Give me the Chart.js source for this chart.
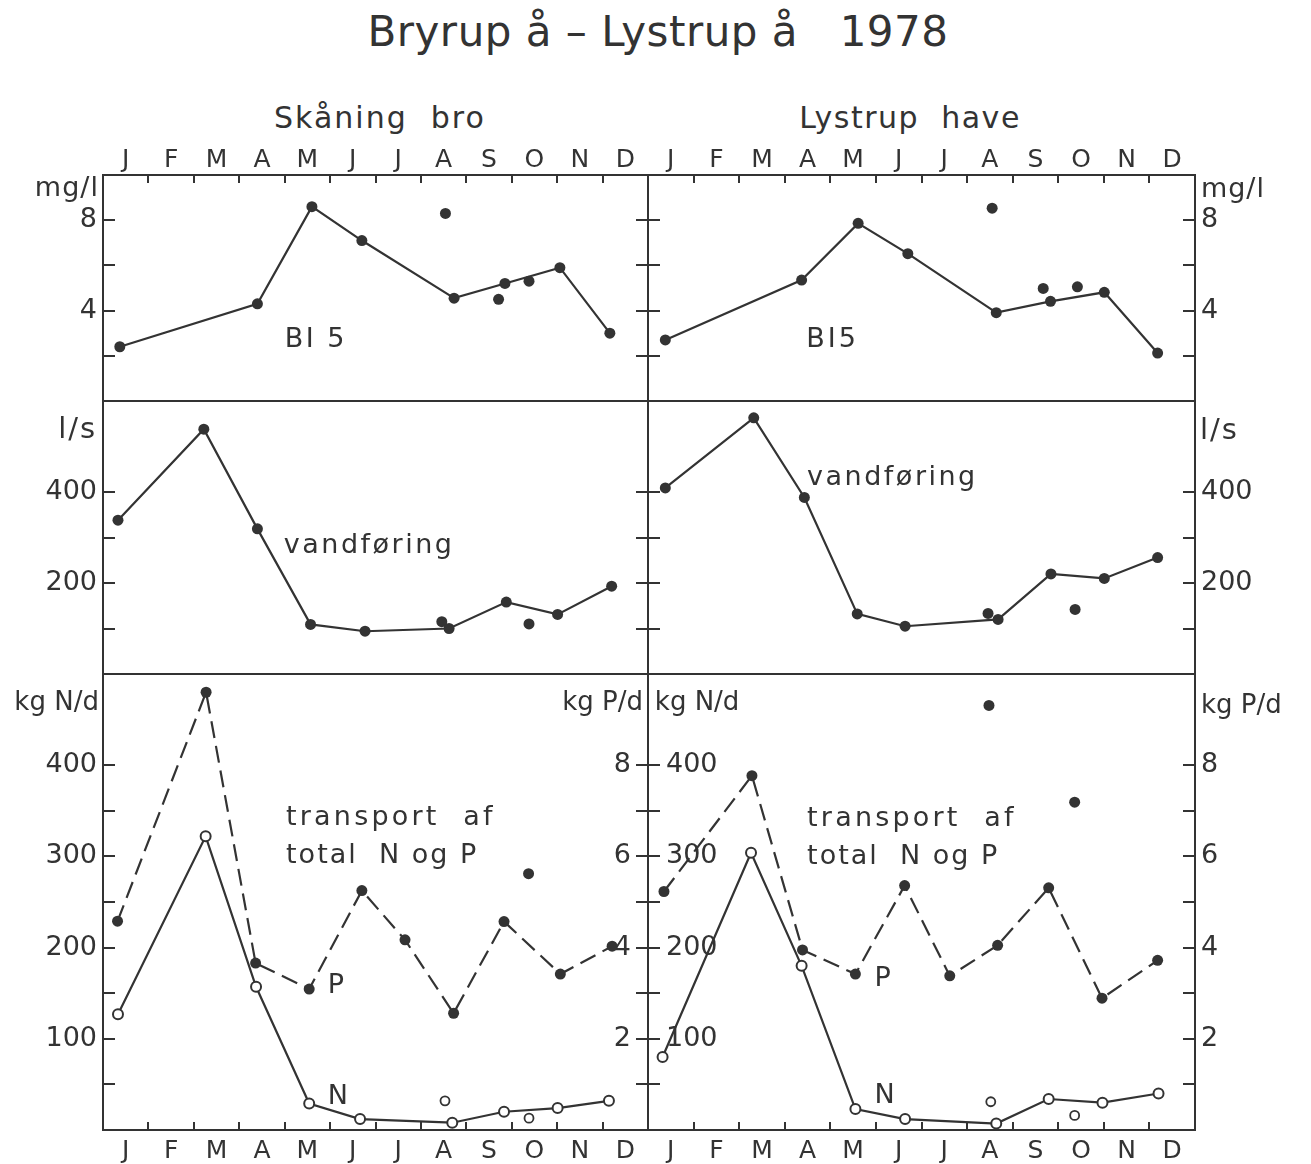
<!DOCTYPE html>
<html>
<head>
<meta charset="utf-8">
<script src="https://cdn.jsdelivr.net/npm/chart.js@4.4.1/dist/chart.umd.min.js"></script>
<style>
  body { margin: 0; background: #fff; }
  #page { position: relative; width: 1311px; height: 1164px; overflow: hidden; background: #fff;
          font-family: "DejaVu Sans", "Liberation Sans", sans-serif; color: #333; }
  #page canvas { position: absolute; }
  .t { position: absolute; white-space: pre; line-height: 1; text-align: center; }
</style>
</head>
<body>
<div id="page">
  <div class="t" style="left:0;width:1316px;top:11px;font-size:42px;letter-spacing:0.5px">Bryrup å – Lystrup å   1978</div>
  <div class="t" style="left:180px;width:400px;top:103px;font-size:30px;letter-spacing:2px">Skåning  bro</div>
  <div class="t" style="left:710px;width:400px;top:103px;font-size:30px;letter-spacing:1.5px">Lystrup  have</div>
</div>
<script>
// months, x = month position (0 = 1 Jan, 12 = 31 Dec)
const months = ['J', 'F', 'M', 'A', 'M', 'J', 'J', 'A', 'S', 'O', 'N', 'D'];

// Skåning bro
const bi5X_sk = [0.37, 3.40, 4.60, 5.70, 7.73, 8.85, 10.06, 11.16];
const bi5_sk = [2.4, 4.3, 8.6, 7.1, 4.55, 5.2, 5.9, 3.0];
const bi5ExtraX_sk = [7.54, 8.71, 9.38];
const bi5Extra_sk = [8.3, 4.5, 5.3];
const qX_sk = [0.33, 2.22, 3.40, 4.57, 5.77, 7.62, 8.88, 10.01, 11.20];
const q_sk = [338, 538, 319, 109, 94, 100, 158, 131, 193];
const qExtraX_sk = [7.46, 9.38];
const qExtra_sk = [115, 110];
const pX_sk = [0.32, 2.27, 3.36, 4.54, 5.70, 6.65, 7.72, 8.83, 10.07, 11.21];
const p_sk = [4.58, 9.6, 3.66, 3.09, 5.25, 4.17, 2.56, 4.57, 3.42, 4.03];
const pExtraX_sk = [9.37];
const pExtra_sk = [5.62];
const nX_sk = [0.33, 2.26, 3.37, 4.54, 5.66, 7.69, 8.83, 10.01, 11.14];
const n_sk = [127, 322, 157, 29, 12, 8, 20, 24, 32];
const nExtraX_sk = [7.53, 9.38];
const nExtra_sk = [32, 13];

// Lystrup have
const bi5X_ly = [0.38, 3.37, 4.61, 5.70, 7.64, 8.83, 10.01, 11.18];
const bi5_ly = [2.7, 5.35, 7.86, 6.52, 3.91, 4.41, 4.81, 2.12];
const bi5ExtraX_ly = [7.55, 8.67, 9.42];
const bi5Extra_ly = [8.53, 4.98, 5.05];
const qX_ly = [0.38, 2.32, 3.43, 4.59, 5.64, 7.68, 8.84, 10.01, 11.18];
const q_ly = [409, 563, 388, 132, 105, 120, 220, 210, 256];
const qExtraX_ly = [7.46, 9.37];
const qExtra_ly = [133, 142];
const pX_ly = [0.35, 2.28, 3.39, 4.55, 5.63, 6.62, 7.67, 8.79, 9.96, 11.18];
const p_ly = [5.23, 7.77, 3.95, 3.42, 5.36, 3.38, 4.05, 5.31, 2.89, 3.72];
const pExtraX_ly = [7.48, 9.36];
const pExtra_ly = [9.31, 7.19];
const nX_ly = [0.32, 2.26, 3.37, 4.55, 5.64, 7.64, 8.79, 9.97, 11.2];
const n_ly = [80, 304, 180, 23, 12, 7, 34, 30, 40];
const nExtraX_ly = [7.52, 9.36];
const nExtra_ly = [31, 16];

// axis ticks and labelled values
const bi5Ticks = [2, 4, 6, 8];
const bi5Labels = [4, 8];
const qTicks = [100, 200, 300, 400];
const qLabels = [200, 400];
const nTicks = [50, 100, 150, 200, 250, 300, 350, 400];
const nLabels = [100, 200, 300, 400];
const pTicks = [1, 2, 3, 4, 5, 6, 7, 8];
const pLabels = [2, 4, 6, 8];

const INK = '#333';
const FAM = '"DejaVu Sans", "Liberation Sans", sans-serif';
const page = document.getElementById('page');

// canvas boxes, pad = room for the axes round the plot area
const COL_L = { left: 0, width: 660, padL: 103, padR: 12 };
const COL_R = { left: 636, width: 675, padL: 12, padR: 116 };
const ROW_1 = { top: 90, height: 316, padT: 85, padB: 5 };
const ROW_2 = { top: 396, height: 284, padT: 5, padB: 6 };
const ROW_3 = { top: 669, height: 495, padT: 5, padB: 34 };

const xy = (xs, ys) => xs.map((x, i) => ({ x: x, y: ys[i] }));

function xAxis(side, withMonths, size) {
  const vals = [];
  for (let k = 0; k <= 24; k++) vals.push(k / 2);
  return {
    type: 'linear', position: side, min: 0, max: 12,
    afterBuildTicks: s => { s.ticks = (withMonths ? vals : [0]).map(v => ({ value: v })); },
    afterFit: s => { s.height = size; s.paddingLeft = 0; s.paddingRight = 0; },
    border: { display: true, color: INK, width: 2 },
    grid: {
      drawOnChartArea: false, drawTicks: withMonths, tickLength: -8, lineWidth: 2,
      color: c => (c.tick && Number.isInteger(c.tick.value) && c.tick.value > 0 && c.tick.value < 12) ? INK : 'rgba(0,0,0,0)'
    },
    ticks: {
      display: withMonths, autoSkip: false, maxRotation: 0, minRotation: 0,
      padding: side === 'top' ? 8 : 14, color: INK, font: { family: FAM, size: 25 },
      callback: v => Number.isInteger(v) ? '' : months[Math.floor(v)]
    }
  };
}

function yAxis(side, max, tickVals, labelVals, mode, size) {
  // mode: 'out' labels outside, 'in' labels inside the panel, 'none' ticks only
  let pad = 18;
  if (mode === 'in') pad = side === 'left' ? 18 : -17;
  return {
    type: 'linear', position: side, min: 0, max: max,
    afterBuildTicks: s => { s.ticks = tickVals.map(v => ({ value: v })); },
    afterFit: s => { s.width = size; s.paddingTop = 0; s.paddingBottom = 0; },
    border: { display: true, color: INK, width: 2 },
    grid: { drawOnChartArea: false, drawTicks: true, tickLength: -12, lineWidth: 2, color: INK },
    ticks: {
      display: mode !== 'none', mirror: mode === 'in', autoSkip: false,
      padding: pad, color: INK, font: { family: FAM, size: 27 },
      callback: v => labelVals.includes(v) ? String(v) : ''
    }
  };
}

function joined(xs, ys, yID, open, dash) {
  return {
    data: xy(xs, ys), yAxisID: yID, xAxisID: 'xt', showLine: true, tension: 0,
    borderColor: INK, borderWidth: 2.2, borderDash: dash ? [17, 8] : [],
    pointRadius: open ? 5 : 5.5, pointBorderWidth: open ? 2 : 0,
    pointBackgroundColor: open ? '#fff' : INK, pointBorderColor: INK
  };
}

function loose(xs, ys, yID, open) {
  return {
    data: xy(xs, ys), yAxisID: yID, xAxisID: 'xt', showLine: false,
    pointRadius: open ? 4.5 : 5.5, pointBorderWidth: open ? 1.8 : 0,
    pointBackgroundColor: open ? '#fff' : INK, pointBorderColor: INK
  };
}

// text placed through the chart's own scales
function notes(items) {
  return {
    id: 'notes',
    afterDatasetsDraw(chart) {
      const ctx = chart.ctx;
      items.forEach(n => {
        ctx.save();
        ctx.font = (n.size || 27) + 'px ' + FAM;
        ctx.fillStyle = INK;
        ctx.textAlign = n.align || 'left';
        ctx.textBaseline = 'alphabetic';
        ctx.letterSpacing = (n.ls || 0) + 'px';
        ctx.fillText(n.text, chart.scales.xt.getPixelForValue(n.x), chart.scales[n.axis || 'yl'].getPixelForValue(n.y));
        ctx.restore();
      });
    }
  };
}

function panel(col, row, scales, datasets, items) {
  const cv = document.createElement('canvas');
  cv.width = col.width;
  cv.height = row.height;
  cv.style.left = col.left + 'px';
  cv.style.top = row.top + 'px';
  cv.style.width = col.width + 'px';
  cv.style.height = row.height + 'px';
  page.appendChild(cv);
  new Chart(cv, {
    type: 'line',
    data: { datasets: datasets },
    options: {
      responsive: false, animation: false, events: [],
      layout: { padding: 0, autoPadding: false },
      plugins: { legend: { display: false }, tooltip: { enabled: false } },
      scales: scales
    },
    plugins: [notes(items)]
  });
}

// row 1: BI5
panel(COL_L, ROW_1, {
  xt: xAxis('top', true, ROW_1.padT), xb: xAxis('bottom', false, ROW_1.padB),
  yl: yAxis('left', 10, bi5Ticks, bi5Labels, 'out', COL_L.padL),
  yr: yAxis('right', 10, bi5Ticks, [], 'none', COL_L.padR)
}, [joined(bi5X_sk, bi5_sk, 'yl', false, false), loose(bi5ExtraX_sk, bi5Extra_sk, 'yl', false)], [
  { text: 'mg/l', x: -0.09, y: 9.07, align: 'right', size: 27, ls: 1 },
  { text: 'BI 5', x: 4.0, y: 2.38, ls: 2.5 }
]);
panel(COL_R, ROW_1, {
  xt: xAxis('top', true, ROW_1.padT), xb: xAxis('bottom', false, ROW_1.padB),
  yl: yAxis('left', 10, bi5Ticks, [], 'none', COL_R.padL),
  yr: yAxis('right', 10, bi5Ticks, bi5Labels, 'out', COL_R.padR)
}, [joined(bi5X_ly, bi5_ly, 'yl', false, false), loose(bi5ExtraX_ly, bi5Extra_ly, 'yl', false)], [
  { text: 'mg/l', x: 12.13, y: 9.03, size: 27, ls: 1 },
  { text: 'BI5', x: 3.47, y: 2.38, ls: 3 }
]);

// row 2: vandføring
panel(COL_L, ROW_2, {
  xt: xAxis('top', false, ROW_2.padT), xb: xAxis('bottom', false, ROW_2.padB),
  yl: yAxis('left', 600, qTicks, qLabels, 'out', COL_L.padL),
  yr: yAxis('right', 600, qTicks, [], 'none', COL_L.padR)
}, [joined(qX_sk, q_sk, 'yl', false, false), loose(qExtraX_sk, qExtra_sk, 'yl', false)], [
  { text: 'l/s', x: -0.13, y: 519, align: 'right', size: 29, ls: 2 },
  { text: 'vandføring', x: 3.98, y: 266, ls: 2.5 }
]);
panel(COL_R, ROW_2, {
  xt: xAxis('top', false, ROW_2.padT), xb: xAxis('bottom', false, ROW_2.padB),
  yl: yAxis('left', 600, qTicks, [], 'none', COL_R.padL),
  yr: yAxis('right', 600, qTicks, qLabels, 'out', COL_R.padR)
}, [joined(qX_ly, q_ly, 'yl', false, false), loose(qExtraX_ly, qExtra_ly, 'yl', false)], [
  { text: 'l/s', x: 12.11, y: 516, size: 29, ls: 2 },
  { text: 'vandføring', x: 3.49, y: 415, ls: 2.5 }
]);

// row 3: transport af total N og P
panel(COL_L, ROW_3, {
  xt: xAxis('top', false, ROW_3.padT), xb: xAxis('bottom', true, ROW_3.padB),
  yl: yAxis('left', 500, nTicks, nLabels, 'out', COL_L.padL),
  yr: yAxis('right', 10, pTicks, pLabels, 'in', COL_L.padR)
}, [
  joined(nX_sk, n_sk, 'yl', true, false), loose(nExtraX_sk, nExtra_sk, 'yl', true),
  joined(pX_sk, p_sk, 'yr', false, true), loose(pExtraX_sk, pExtra_sk, 'yr', false)
], [
  { text: 'kg N/d', x: -0.09, y: 460, align: 'right', size: 26 },
  { text: 'kg P/d', x: 11.89, y: 460, align: 'right', size: 26 },
  { text: 'transport  af', x: 4.03, y: 334, ls: 3.2 },
  { text: 'total  N og P', x: 4.03, y: 293, ls: 2 },
  { text: 'P', x: 4.95, y: 150 },
  { text: 'N', x: 4.95, y: 29 }
]);
panel(COL_R, ROW_3, {
  xt: xAxis('top', false, ROW_3.padT), xb: xAxis('bottom', true, ROW_3.padB),
  yl: yAxis('left', 500, nTicks, nLabels, 'in', COL_R.padL),
  yr: yAxis('right', 10, pTicks, pLabels, 'out', COL_R.padR)
}, [
  joined(nX_ly, n_ly, 'yl', true, false), loose(nExtraX_ly, nExtra_ly, 'yl', true),
  joined(pX_ly, p_ly, 'yr', false, true), loose(pExtraX_ly, pExtra_ly, 'yr', false)
], [
  { text: 'kg N/d', x: 0.15, y: 460, size: 26 },
  { text: 'kg P/d', x: 12.13, y: 457, size: 26 },
  { text: 'transport  af', x: 3.49, y: 333, ls: 3.2 },
  { text: 'total  N og P', x: 3.49, y: 292, ls: 2 },
  { text: 'P', x: 4.97, y: 158 },
  { text: 'N', x: 4.97, y: 30 }
]);
</script>
</body>
</html>
